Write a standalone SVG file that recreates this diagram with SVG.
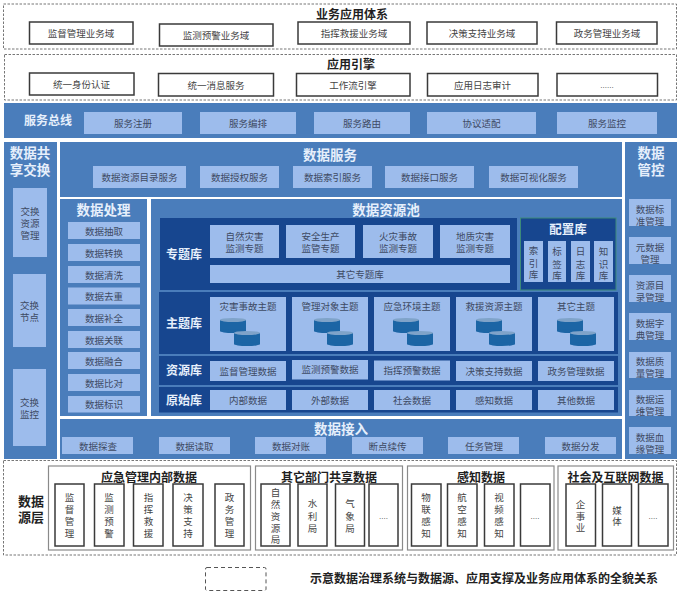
<svg xmlns="http://www.w3.org/2000/svg" width="682" height="595" viewBox="0 0 682 595">
<style>
text{font-family:"Liberation Sans","Noto Sans CJK SC",sans-serif;text-anchor:middle;dominant-baseline:central;transform:translateY(.8px)}
.t{font-size:9.5px;fill:#3d4a63}
.h{font-size:12px;font-weight:700;fill:#1f1f1f}
.k{font-size:9.5px;fill:#444}
.ht{font-size:13.5px;font-weight:700;fill:#e6effb}
.hs{font-size:12px;font-weight:700;fill:#e6effb}
.dash{fill:#fff;stroke:#777;stroke-width:1;stroke-dasharray:2.5 1.5}
.bx{fill:#fff;stroke:#3a3a3a;stroke-width:1.5}
.sg{fill:#fff;stroke:#8a8a8a;stroke-width:1.2}
.bl{fill:#4a7dbb}
.li{fill:#9dbcec}
.dk{fill:#17468f}
.cyl{fill:#1c65a5}
.cyt{fill:#7fa3c9}
</style>
<defs>
<g id="cyl"><rect class="cyl" x="0" y="2" width="26" height="11"/><ellipse class="cyl" cx="13" cy="13" rx="13" ry="2"/><ellipse class="cyt" cx="13" cy="2" rx="13" ry="2"/></g>
</defs>
<rect width="682" height="595" fill="#fff"/>
<g id="connectors"></g>

<g id="layer-app">
<rect class="dash" x="3.500" y="4" width="673" height="45"/>
<text class="h" x="352" y="14">业务应用体系</text>
<g id="app1"><rect class="bx" x="29.500" y="22" width="103.500" height="22"/><text class="k" x="81" y="33">监督管理业务域</text></g>
<g id="app2"><rect class="bx" x="159.500" y="24" width="113.500" height="22"/><text class="k" x="216" y="35">监测预警业务域</text></g>
<g id="app3"><rect class="bx" x="298" y="22" width="112" height="22"/><text class="k" x="354" y="33">指挥救援业务域</text></g>
<g id="app4"><rect class="bx" x="427" y="22" width="110" height="22"/><text class="k" x="482" y="33">决策支持业务域</text></g>
<g id="app5"><rect class="bx" x="556.500" y="22" width="100.500" height="22"/><text class="k" x="607" y="33">政务管理业务域</text></g>
</g>

<g id="layer-engine">
<rect class="dash" x="4.500" y="54.500" width="672" height="45.500"/>
<text class="h" x="351" y="64">应用引擎</text>
<g id="eng1"><rect class="bx" x="29.500" y="73" width="104.500" height="22"/><text class="k" x="81.500" y="84">统一身份认证</text></g>
<g id="eng2"><rect class="bx" x="158.500" y="73.500" width="115" height="22.500"/><text class="k" x="216" y="85">统一消息服务</text></g>
<g id="eng3"><rect class="bx" x="296.500" y="73.500" width="113.500" height="22.500"/><text class="k" x="353" y="85">工作流引擎</text></g>
<g id="eng4"><rect class="bx" x="427.500" y="73.500" width="110.500" height="22.500"/><text class="k" x="482.500" y="85">应用日志审计</text></g>
<g id="eng5"><rect class="bx" x="557" y="73.500" width="100.500" height="22.500"/><text class="k" x="607" y="85" style="font-size:8px">......</text></g>
</g>

<g id="service-bus">
<rect class="bl" x="4" y="103" width="673" height="35"/>
<text class="hs" x="48" y="120">服务总线</text>
<g id="bus1"><rect class="li" x="84" y="112" width="98" height="22"/><text class="t" x="133" y="123">服务注册</text></g>
<g id="bus2"><rect class="li" x="200" y="112" width="96" height="22"/><text class="t" x="248" y="123">服务编排</text></g>
<g id="bus3"><rect class="li" x="314" y="112" width="96" height="22"/><text class="t" x="362" y="123">服务路由</text></g>
<g id="bus4"><rect class="li" x="427" y="112" width="109" height="22"/><text class="t" x="481.500" y="123">协议适配</text></g>
<g id="bus5"><rect class="li" x="557" y="112" width="100" height="22"/><text class="t" x="607" y="123">服务监控</text></g>
</g>

<g id="data-exchange">
<rect class="bl" x="4" y="142" width="53" height="317"/>
<text class="ht" x="30" y="153">数据共<tspan x="30" dy="16">享交换</tspan></text>
<g id="ex1"><rect class="li" x="13" y="188" width="34" height="69"/><text class="t" x="30" y="211">交换<tspan x="30" dy="11.500">资源</tspan><tspan x="30" dy="11.500">管理</tspan></text></g>
<g id="ex2"><rect class="li" x="13" y="274" width="33" height="73"/><text class="t" x="29.500" y="305">交换<tspan x="29.500" dy="11">节点</tspan></text></g>
<g id="ex3"><rect class="li" x="13" y="369" width="33" height="77"/><text class="t" x="29.500" y="402">交换<tspan x="29.500" dy="11">监控</tspan></text></g>
</g>

<g id="data-service">
<rect class="bl" x="60" y="142" width="562" height="55"/>
<text class="ht" x="330" y="155">数据服务</text>
<g id="svc1"><rect class="li" x="93" y="166" width="93" height="22"/><text class="t" x="139.500" y="177">数据资源目录服务</text></g>
<g id="svc2"><rect class="li" x="200" y="166" width="79" height="22"/><text class="t" x="239.500" y="177">数据授权服务</text></g>
<g id="svc3"><rect class="li" x="293" y="166" width="79" height="22"/><text class="t" x="332.500" y="177">数据索引服务</text></g>
<g id="svc4"><rect class="li" x="385" y="166" width="89" height="22"/><text class="t" x="429.500" y="177">数据接口服务</text></g>
<g id="svc5"><rect class="li" x="489" y="166" width="89" height="22"/><text class="t" x="533.500" y="177">数据可视化服务</text></g>
</g>

<g id="data-processing">
<rect class="bl" x="60" y="199" width="87" height="217"/>
<text class="ht" x="103.500" y="210">数据处理</text>
<g id="pr1"><rect class="li" x="68" y="222" width="72" height="17"/><text class="t" x="104" y="231">数据抽取</text></g>
<g id="pr2"><rect class="li" x="68" y="244" width="72" height="17"/><text class="t" x="104" y="253">数据转换</text></g>
<g id="pr3"><rect class="li" x="68" y="266" width="72" height="17"/><text class="t" x="104" y="274.500">数据清洗</text></g>
<g id="pr4"><rect class="li" x="68" y="287.500" width="72" height="17"/><text class="t" x="104" y="296">数据去重</text></g>
<g id="pr5"><rect class="li" x="68" y="309" width="72" height="17"/><text class="t" x="104" y="317.500">数据补全</text></g>
<g id="pr6"><rect class="li" x="68" y="331" width="72" height="17"/><text class="t" x="104" y="339.500">数据关联</text></g>
<g id="pr7"><rect class="li" x="68" y="352" width="72" height="17"/><text class="t" x="104" y="361">数据融合</text></g>
<g id="pr8"><rect class="li" x="68" y="374" width="72" height="17"/><text class="t" x="104" y="382.500">数据比对</text></g>
<g id="pr9"><rect class="li" x="68" y="396" width="72" height="16.500"/><text class="t" x="104" y="404">数据标识</text></g>
</g>

<g id="resource-pool">
<rect class="bl" x="151" y="199" width="471" height="217"/>
<text class="ht" x="386" y="210">数据资源池</text>

<g id="topic-lib">
<rect class="dk" x="160" y="218" width="357" height="72"/>
<text class="hs" x="184" y="254">专题库</text>
<g id="tp1"><rect class="li" x="210" y="225" width="69" height="33"/><text class="t" x="244.500" y="236">自然灾害<tspan x="244.500" dy="11">监测专题</tspan></text></g>
<g id="tp2"><rect class="li" x="286" y="225" width="69" height="33"/><text class="t" x="320.500" y="236">安全生产<tspan x="320.500" dy="11">监管专题</tspan></text></g>
<g id="tp3"><rect class="li" x="363" y="225" width="70" height="33"/><text class="t" x="398" y="236">火灾事故<tspan x="398" dy="11">监测专题</tspan></text></g>
<g id="tp4"><rect class="li" x="440" y="225" width="70" height="33"/><text class="t" x="475" y="236">地质灾害<tspan x="475" dy="11">监测专题</tspan></text></g>
<g id="tp5"><rect class="li" x="210" y="265" width="300" height="18"/><text class="t" x="360" y="274">其它专题库</text></g>
</g>

<g id="config-lib">
<rect x="520.500" y="218" width="95.500" height="72" fill="#17468f" stroke="#3c8a7a" stroke-width="1"/>
<text class="hs" x="568" y="229" style="font-size:12.500px">配置库</text>
<g id="cf1"><rect class="li" x="524" y="241" width="19" height="41"/><text class="t" x="533.500" y="250">索<tspan x="533.500" dy="12">引</tspan><tspan x="533.500" dy="11">库</tspan></text></g>
<g id="cf2"><rect class="li" x="548" y="241" width="18" height="41"/><text class="t" x="557" y="251">标<tspan x="557" dy="12">签</tspan><tspan x="557" dy="11">库</tspan></text></g>
<g id="cf3"><rect class="li" x="571" y="241" width="19" height="41"/><text class="t" x="580.500" y="251">日<tspan x="580.500" dy="12">志</tspan><tspan x="580.500" dy="11">库</tspan></text></g>
<g id="cf4"><rect class="li" x="594" y="241" width="19" height="41"/><text class="t" x="603.500" y="251">知<tspan x="603.500" dy="12">识</tspan><tspan x="603.500" dy="11">库</tspan></text></g>
</g>

<g id="theme-lib">
<rect class="dk" x="159" y="292" width="459" height="62"/>
<text class="hs" x="184" y="323">主题库</text>
<g id="th1"><rect class="li" x="210" y="297" width="76" height="54"/><text class="t" x="248" y="306">灾害事故主题</text><use href="#cyl" x="220" y="318"/><use href="#cyl" x="234" y="331"/></g>
<g id="th2"><rect class="li" x="292" y="297" width="76" height="54"/><text class="t" x="330" y="306">管理对象主题</text><use href="#cyl" x="314" y="318"/><use href="#cyl" x="327" y="331"/></g>
<g id="th3"><rect class="li" x="374" y="297" width="76" height="54"/><text class="t" x="412" y="306">应急环境主题</text><use href="#cyl" x="393" y="318"/><use href="#cyl" x="407" y="331"/></g>
<g id="th4"><rect class="li" x="456" y="297" width="76" height="54"/><text class="t" x="494" y="306">救援资源主题</text><use href="#cyl" x="476" y="318"/><use href="#cyl" x="489" y="331"/></g>
<g id="th5"><rect class="li" x="538" y="297" width="76" height="54"/><text class="t" x="576" y="306">其它主题</text><use href="#cyl" x="557" y="318"/><use href="#cyl" x="570" y="331"/></g>
</g>

<g id="resource-lib">
<rect class="dk" x="159" y="356" width="459" height="29"/>
<text class="hs" x="184" y="370">资源库</text>
<g id="rs1"><rect class="li" x="210" y="361" width="76" height="20"/><text class="t" x="248" y="370.500">监督管理数据</text></g>
<g id="rs2"><rect class="li" x="292" y="360" width="76" height="19.500"/><text class="t" x="330" y="369">监测预警数据</text></g>
<g id="rs3"><rect class="li" x="374" y="360.500" width="76" height="20"/><text class="t" x="412" y="370">指挥预警数据</text></g>
<g id="rs4"><rect class="li" x="456" y="361" width="76" height="20"/><text class="t" x="494" y="370.500">决策支持数据</text></g>
<g id="rs5"><rect class="li" x="538" y="361" width="76" height="20"/><text class="t" x="576" y="370.500">政务管理数据</text></g>
</g>

<g id="raw-lib">
<rect class="dk" x="159" y="387" width="459" height="25.500"/>
<text class="hs" x="184" y="400">原始库</text>
<g id="rw1"><rect class="li" x="210" y="390" width="76" height="20"/><text class="t" x="248" y="399.500">内部数据</text></g>
<g id="rw2"><rect class="li" x="292" y="390" width="76" height="20"/><text class="t" x="330" y="399.500">外部数据</text></g>
<g id="rw3"><rect class="li" x="374" y="390" width="76" height="20"/><text class="t" x="412" y="399.500">社会数据</text></g>
<g id="rw4"><rect class="li" x="456" y="390" width="76" height="20"/><text class="t" x="494" y="399.500">感知数据</text></g>
<g id="rw5"><rect class="li" x="538" y="390" width="76" height="20"/><text class="t" x="576" y="399.500">其他数据</text></g>
</g>
</g>

<g id="data-access">
<rect class="bl" x="60" y="419" width="562" height="40"/>
<text class="ht" x="341" y="429">数据接入</text>
<g id="ac1"><rect class="li" x="62" y="437" width="71" height="17"/><text class="t" x="98" y="446">数据探查</text></g>
<g id="ac2"><rect class="li" x="159" y="437" width="71" height="17"/><text class="t" x="194.500" y="446">数据读取</text></g>
<g id="ac3"><rect class="li" x="255" y="437" width="71" height="17"/><text class="t" x="291" y="446">数据对账</text></g>
<g id="ac4"><rect class="li" x="352" y="437" width="71" height="17"/><text class="t" x="387.500" y="446">断点续传</text></g>
<g id="ac5"><rect class="li" x="448" y="437" width="71" height="17"/><text class="t" x="484" y="446">任务管理</text></g>
<g id="ac6"><rect class="li" x="545" y="437" width="71" height="17"/><text class="t" x="580.500" y="446">数据分发</text></g>
</g>

<g id="data-governance">
<rect class="bl" x="625" y="142" width="52" height="317"/>
<text class="ht" x="651" y="153">数据<tspan x="651" dy="16">管控</tspan></text>
<g id="gv1"><rect class="li" x="629" y="199" width="42" height="27"/><text class="t" x="650" y="209">数据标<tspan x="650" dy="11">准管理</tspan></text></g>
<g id="gv2"><rect class="li" x="629" y="237" width="42" height="27"/><text class="t" x="650" y="247">元数据<tspan x="650" dy="11">管理</tspan></text></g>
<g id="gv3"><rect class="li" x="629" y="275" width="42" height="27"/><text class="t" x="650" y="285">资源目<tspan x="650" dy="11">录管理</tspan></text></g>
<g id="gv4"><rect class="li" x="629" y="313" width="42" height="27"/><text class="t" x="650" y="323">数据字<tspan x="650" dy="11">典管理</tspan></text></g>
<g id="gv5"><rect class="li" x="629" y="352" width="42" height="26"/><text class="t" x="650" y="361">数据质<tspan x="650" dy="11">量管理</tspan></text></g>
<g id="gv6"><rect class="li" x="629" y="390" width="42" height="26"/><text class="t" x="650" y="399">数据运<tspan x="650" dy="11">维管理</tspan></text></g>
<g id="gv7"><rect class="li" x="629" y="427" width="42" height="27"/><text class="t" x="650" y="437">数据血<tspan x="650" dy="11">缘管理</tspan></text></g>
</g>

<g id="source-layer">
<rect class="dash" x="3.500" y="460.500" width="673" height="94.500"/>
<text class="h" x="31" y="501" style="font-size:13px">数据<tspan x="31" dy="15">源层</tspan></text>

<g id="src-internal">
<rect class="sg" x="48.500" y="466" width="202" height="84"/>
<text class="h" x="149" y="477">应急管理内部数据</text>
<g id="s1"><rect class="bx" x="55" y="484" width="29" height="62"/><text class="k" x="69.500" y="497">监<tspan x="69.500" dy="11.700">督</tspan><tspan x="69.500" dy="11.700">管</tspan><tspan x="69.500" dy="11.700">理</tspan></text></g>
<g id="s2"><rect class="bx" x="94.500" y="484" width="29.500" height="62"/><text class="k" x="109" y="497">监<tspan x="109" dy="11.700">测</tspan><tspan x="109" dy="11.700">预</tspan><tspan x="109" dy="11.700">警</tspan></text></g>
<g id="s3"><rect class="bx" x="133.500" y="484" width="29.500" height="62"/><text class="k" x="148.500" y="497">指<tspan x="148.500" dy="11.700">挥</tspan><tspan x="148.500" dy="11.700">救</tspan><tspan x="148.500" dy="11.700">援</tspan></text></g>
<g id="s4"><rect class="bx" x="173" y="484" width="30" height="62"/><text class="k" x="188" y="497">决<tspan x="188" dy="11.700">策</tspan><tspan x="188" dy="11.700">支</tspan><tspan x="188" dy="11.700">持</tspan></text></g>
<g id="s5"><rect class="bx" x="215" y="484" width="29" height="62"/><text class="k" x="229.500" y="497">政<tspan x="229.500" dy="11.700">务</tspan><tspan x="229.500" dy="11.700">管</tspan><tspan x="229.500" dy="11.700">理</tspan></text></g>
</g>

<g id="src-dept">
<rect class="sg" x="255.500" y="466" width="147" height="84"/>
<text class="h" x="329" y="477">其它部门共享数据</text>
<g id="s6"><rect class="bx" x="261" y="484" width="29" height="62"/><text class="k" x="275.500" y="492">自<tspan x="275.500" dy="11.600">然</tspan><tspan x="275.500" dy="11.600">资</tspan><tspan x="275.500" dy="11.600">源</tspan><tspan x="275.500" dy="11.600">局</tspan></text></g>
<g id="s7"><rect class="bx" x="298" y="484" width="29" height="62"/><text class="k" x="312.500" y="503">水<tspan x="312.500" dy="12">利</tspan><tspan x="312.500" dy="12">局</tspan></text></g>
<g id="s8"><rect class="bx" x="335.500" y="484" width="29" height="62"/><text class="k" x="350" y="503">气<tspan x="350" dy="12">象</tspan><tspan x="350" dy="12">局</tspan></text></g>
<g id="s9"><rect class="bx" x="369" y="484" width="29" height="62"/><text class="k" x="383.500" y="516" style="font-size:8px">....</text></g>
</g>

<g id="src-sense">
<rect class="sg" x="407.500" y="466" width="146.500" height="84"/>
<text class="h" x="481" y="477">感知数据</text>
<g id="s10"><rect class="bx" x="411.500" y="484" width="29.500" height="62"/><text class="k" x="426" y="497">物<tspan x="426" dy="11.700">联</tspan><tspan x="426" dy="11.700">感</tspan><tspan x="426" dy="11.700">知</tspan></text></g>
<g id="s11"><rect class="bx" x="447.500" y="484" width="29.500" height="62"/><text class="k" x="462" y="497">航<tspan x="462" dy="11.700">空</tspan><tspan x="462" dy="11.700">感</tspan><tspan x="462" dy="11.700">知</tspan></text></g>
<g id="s12"><rect class="bx" x="484.500" y="484" width="29.500" height="62"/><text class="k" x="499" y="497">视<tspan x="499" dy="11.700">频</tspan><tspan x="499" dy="11.700">感</tspan><tspan x="499" dy="11.700">知</tspan></text></g>
<g id="s13"><rect class="bx" x="520.500" y="484" width="29.500" height="62"/><text class="k" x="535" y="516" style="font-size:8px">....</text></g>
</g>

<g id="src-social">
<rect class="sg" x="558" y="466" width="115.500" height="84"/>
<text class="h" x="615.500" y="477">社会及互联网数据</text>
<g id="s14"><rect class="bx" x="566" y="484" width="29.500" height="62"/><text class="k" x="580.500" y="504">企<tspan x="580.500" dy="11">事</tspan><tspan x="580.500" dy="11">业</tspan></text></g>
<g id="s15"><rect class="bx" x="602.500" y="484" width="29" height="62"/><text class="k" x="617" y="509.500">媒<tspan x="617" dy="11">体</tspan></text></g>
<g id="s16"><rect class="bx" x="638.500" y="484" width="29.500" height="62"/><text class="k" x="653" y="516" style="font-size:8px">....</text></g>
</g>
</g>

<g id="legend">
<rect x="205.500" y="567.500" width="60.500" height="23" rx="1.500" fill="#fff" stroke="#555" stroke-width="1" stroke-dasharray="4 3"/>
<text x="484" y="578" style="font-size:12px;font-weight:700;fill:#222">示意数据治理系统与数据源、应用支撑及业务应用体系的全貌关系</text>
</g>
</svg>
